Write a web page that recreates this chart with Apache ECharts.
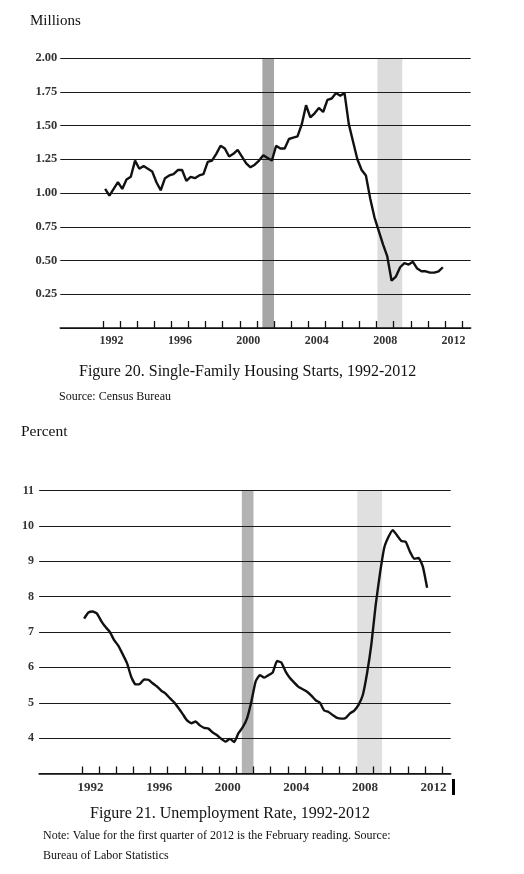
<!DOCTYPE html>
<html lang="en">
<head>
    <meta charset="UTF-8">
    <title>Housing Starts and Unemployment Rate</title>
    <script src="https://cdn.jsdelivr.net/npm/echarts@6.0.0/dist/echarts.min.js"></script>
</head>
<body style="margin:0;background:#fff">
    <div id="chart" style="width:524px;height:874px;"></div>
<script type="text/javascript">
    // quarterly data, first point = 1992 Q1
    var startYear = 1992;

    // Figure 20, single-family housing starts (millions, 1992Q1 - 2011Q4)
    var housingStarts = [
        1.03, 0.98, 1.03, 1.08, 1.03, 1.10, 1.12, 1.24,
        1.18, 1.20, 1.18, 1.16, 1.08, 1.02, 1.11, 1.13,
        1.14, 1.17, 1.17, 1.09, 1.12, 1.11, 1.13, 1.14,
        1.23, 1.24, 1.29, 1.35, 1.33, 1.27, 1.29, 1.32,
        1.27, 1.22, 1.19, 1.21, 1.24, 1.28, 1.26, 1.24,
        1.35, 1.33, 1.33, 1.40, 1.41, 1.42, 1.51, 1.65,
        1.56, 1.59, 1.63, 1.60, 1.69, 1.70, 1.74, 1.72,
        1.74, 1.51, 1.38, 1.25, 1.17, 1.13, 0.96, 0.82,
        0.72, 0.62, 0.53, 0.35, 0.38, 0.45, 0.48, 0.47,
        0.49, 0.44, 0.42, 0.42, 0.41, 0.41, 0.42, 0.45
    ];

    // Figure 21, unemployment rate (percent, 1992Q1 - 2012Q1)
    var unemployment = [
        7.38, 7.55, 7.58, 7.52, 7.31, 7.14, 7.00, 6.77,
        6.61, 6.37, 6.12, 5.73, 5.52, 5.53, 5.66, 5.65,
        5.55, 5.46, 5.34, 5.26, 5.13, 5.01, 4.85, 4.68,
        4.50, 4.42, 4.47, 4.36, 4.29, 4.27, 4.16, 4.08,
        3.98, 3.90, 3.98, 3.89, 4.14, 4.31, 4.56, 5.03,
        5.60, 5.78, 5.71, 5.78, 5.86, 6.18, 6.14, 5.88,
        5.70, 5.57, 5.45, 5.38, 5.31, 5.20, 5.07, 5.00,
        4.78, 4.74, 4.65, 4.57, 4.55, 4.57, 4.70, 4.78,
        4.94, 5.22, 5.84, 6.66, 7.76, 8.65, 9.38, 9.69,
        9.88, 9.73, 9.57, 9.55, 9.27, 9.07, 9.09, 8.85,
        8.25
    ];

    // recession shading (year fractions)
    var recession2001 = [2001.32, 2002.0];
    var recession2008 = [2008.05, 2009.5];

    // tick marks at the start of each year, labels in the middle of the year
    var tickYears = [1992, 1993, 1994, 1995, 1996, 1997, 1998, 1999, 2000, 2001, 2002,
                     2003, 2004, 2005, 2006, 2007, 2008, 2009, 2010, 2011, 2012, 2013];
    var yearLabels = ['1992', '1996', '2000', '2004', '2008', '2012'];

    var housingTicks = [0, 0.25, 0.5, 0.75, 1, 1.25, 1.5, 1.75, 2];
    var percentTicks = [3, 4, 5, 6, 7, 8, 9, 10, 11];

    var serif = "'Liberation Serif', 'DejaVu Serif', serif";

    // quarter index -> position on the year axis (middle of the quarter)
    function toPairs(values){
        return values.map(function(v, i){
            return [startYear + (i + 0.5) / 4, v];
        });
    }

    function xAxisFor(gridIndex, fontSize, margin){
        return {
            type: 'value',
            gridIndex: gridIndex,
            min: 1989.5,
            max: 2013.5,
            z: 3,
            splitLine: { show: false },
            axisLine: { show: true, lineStyle: { color: '#111', width: 1.6 } },
            axisTick: {
                show: true,
                inside: true,
                length: 7,
                customValues: tickYears,
                lineStyle: { color: '#111', width: 1.3 }
            },
            axisLabel: {
                customValues: yearLabels.map(function(y){ return +y + 0.5; }),
                formatter: function(v){ return String(Math.floor(v)); },
                fontFamily: serif,
                fontWeight: 'bold',
                fontSize: fontSize,
                color: '#333',
                margin: margin
            }
        };
    }

    function yAxisFor(gridIndex, ticks, digits, fontSize, margin){
        return {
            type: 'value',
            gridIndex: gridIndex,
            min: ticks[0],
            max: ticks[ticks.length - 1],
            interval: ticks[1] - ticks[0],
            z: 3,
            axisLine: { show: false },
            axisTick: { show: false },
            splitLine: { show: true, lineStyle: { color: '#1a1a1a', width: 1.2 } },
            axisLabel: {
                showMinLabel: false,
                formatter: function(v){ return v.toFixed(digits); },
                fontFamily: serif,
                fontWeight: 'bold',
                fontSize: fontSize,
                color: '#333',
                margin: margin
            }
        };
    }

    function shading(axisIndex, dark, light){
        return {
            type: 'line',
            xAxisIndex: axisIndex,
            yAxisIndex: axisIndex,
            data: [],
            z: 1,
            silent: true,
            markArea: {
                silent: true,
                data: [
                    [{ xAxis: recession2001[0], itemStyle: { color: dark } }, { xAxis: recession2001[1] }],
                    [{ xAxis: recession2008[0], itemStyle: { color: light } }, { xAxis: recession2008[1] }]
                ]
            }
        };
    }

    function lineSeries(axisIndex, values, smooth){
        return {
            type: 'line',
            xAxisIndex: axisIndex,
            yAxisIndex: axisIndex,
            data: toPairs(values),
            z: 5,
            smooth: smooth,
            showSymbol: false,
            symbol: 'none',
            lineStyle: { color: '#111', width: 2.4 },
            animation: false
        };
    }

    function label(text, left, top, size){
        return {
            type: 'text',
            left: left,
            top: top,
            style: { text: text, fontFamily: serif, fontSize: size, fill: '#111' }
        };
    }

    var chart = echarts.init(document.getElementById('chart'), null, { renderer: 'canvas' });
    chart.setOption({
        backgroundColor: '#fff',
        animation: false,
        grid: [
            { left: 60.25, width: 410.4, top: 58, height: 270, outerBoundsMode: 'none' },
            { left: 39.1, width: 411.6, top: 490.5, height: 283, outerBoundsMode: 'none' }
        ],
        xAxis: [ xAxisFor(0, 12, 7), xAxisFor(1, 13, 8) ],
        yAxis: [ yAxisFor(0, housingTicks, 2, 12.5, 3), yAxisFor(1, percentTicks, 0, 12, 5) ],
        series: [
            shading(0, '#a6a6a6', '#dcdcdc'),
            lineSeries(0, housingStarts, false),
            shading(1, '#b3b3b3', '#e0e0e0'),
            lineSeries(1, unemployment, 0.15)
        ],
        graphic: [
            label('Millions', 30, 14, 15),
            label('Figure 20. Single-Family Housing Starts, 1992-2012', 79, 364, 16),
            label('Source: Census Bureau', 59, 391, 12),
            label('Percent', 21, 424, 15.5),
            label('Figure 21. Unemployment Rate, 1992-2012', 90, 806, 16),
            label('Note: Value for the first quarter of 2012 is the February reading. Source:', 43, 830, 12),
            label('Bureau of Labor Statistics', 43, 850, 12),
            // stray mark right of the 2012 label in the scan
            { type: 'rect', shape: { x: 452, y: 779, width: 3, height: 16 }, style: { fill: '#000' } }
        ]
    });
</script>
</body>
</html>
